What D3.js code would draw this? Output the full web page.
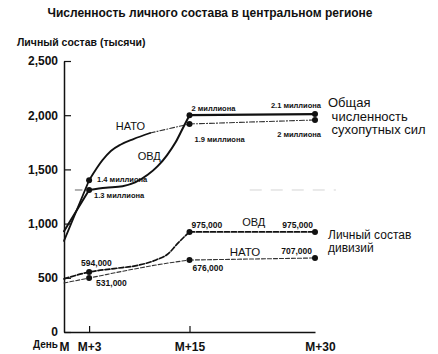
<!DOCTYPE html>
<html>
<head>
<meta charset="utf-8">
<script src="https://cdn.jsdelivr.net/npm/d3@7"></script>
<style>
  body { margin: 0; background: #fff; }
  text { font-family: "Liberation Sans", Arial, sans-serif; fill: #111; }
</style>
</head>
<body>
<div id="Canvas"></div>
<script>
// данные (тысячи человек), ось X - дни от M
let natoTotalDays = [0, 3, 4.6, 5.6, 6.8, 8.3, 10.3, 12.1, 15, 30]
let natoTotalVals = [840, 1400, 1585, 1670, 1730, 1780, 1836, 1868, 1919, 1956]
let ovdTotalDays = [0, 3, 5, 7, 8.5, 10, 11.2, 12.3, 13.3, 14.2, 15, 30]
let ovdTotalVals = [930, 1310, 1330, 1345, 1380, 1450, 1530, 1630, 1745, 1880, 2000, 2010]
let ovdDivDays = [0, 3, 6, 9, 11, 12.5, 13.5, 14.4, 15, 30]
let ovdDivVals = [490, 553, 585, 618, 665, 725, 810, 880, 923, 923]
let natoDivDays = [0, 3, 9, 11, 15, 30]
let natoDivVals = [452, 498, 590, 618, 664, 683]

let markDays = [3, 15, 30]
let natoTotalLabels = ["1.4 миллиона", "1.9 миллиона", "2 миллиона"]
let ovdTotalLabels = ["1.3 миллиона", "2 миллиона", "2.1 миллиона"]
let ovdDivLabels = ["594,000", "975,000", "975,000"]
let natoDivLabels = ["531,000", "676,000", "707,000"]

let yTicks = [0, 500, 1000, 1500, 2000, 2500]
let xTicks = [0, 3, 15, 30]
let xTickLabels = ["M", "M+3", "M+15", "M+30"]

let svg = d3.select("#Canvas")
    .append("svg")
    .attr("width", 438)
    .attr("height", 354)

let xScale = d3.scaleLinear().domain([0, 30]).range([64, 315])
let yScale = d3.scaleLinear().domain([0, 2500]).range([332, 61])

// заголовки
svg.append("text")
    .attr("x", 210).attr("y", 17)
    .attr("text-anchor", "middle")
    .style("font-size", "12px").style("font-weight", "bold")
    .text("Численность личного состава в центральном регионе")
svg.append("text")
    .attr("x", 17).attr("y", 46)
    .style("font-size", "10.5px").style("font-weight", "bold")
    .text("Личный состав (тысячи)")

// оси
let yAxis = svg.append("g")
    .attr("transform", "translate(64,0)")
    .call(d3.axisLeft(yScale).tickValues(yTicks).tickFormat(d3.format(","))
        .tickSizeInner(-7).tickSizeOuter(0).tickPadding(6))
yAxis.select(".domain").attr("stroke", "#111").attr("stroke-width", 1.5)
yAxis.selectAll(".tick line").attr("stroke", "#111").attr("stroke-width", 1.2)
yAxis.selectAll(".tick text")
    .style("font-size", "12px").style("font-weight", "bold")
    .style("font-family", "'Liberation Sans', Arial, sans-serif").attr("fill", "#111")

let xAxis = svg.append("g")
    .attr("transform", "translate(0,332)")
    .call(d3.axisBottom(xScale).tickValues(xTicks).tickFormat((d, i) => xTickLabels[i])
        .tickSizeInner(-6).tickSizeOuter(0).tickPadding(10))
xAxis.select(".domain").attr("stroke", "#111").attr("stroke-width", 1.5)
xAxis.selectAll(".tick line").attr("stroke", "#111").attr("stroke-width", 1.2)
    .filter(d => d == 0 || d == 30).remove()
xAxis.selectAll(".tick text")
    .style("font-size", "12px").style("font-weight", "bold")
    .style("font-family", "'Liberation Sans', Arial, sans-serif").attr("fill", "#111")
    .attr("dx", d => d == 30 ? 5 : 0)
svg.append("text")
    .attr("x", xScale(0) - 6).attr("y", 348)
    .attr("text-anchor", "end")
    .style("font-size", "10px").style("font-weight", "bold")
    .text("День")

// бледная линия на уровне 1.3 млн
svg.append("line")
    .attr("x1", xScale(1.3)).attr("x2", xScale(2.2))
    .attr("y1", yScale(1310)).attr("y2", yScale(1310))
    .attr("stroke", "#666").attr("stroke-width", 1)
svg.append("line")
    .attr("x1", xScale(22.2)).attr("x2", xScale(32.5))
    .attr("y1", yScale(1310)).attr("y2", yScale(1310))
    .attr("stroke", "#d4d4d4").attr("stroke-width", 1)
    .attr("stroke-dasharray", "12,9")

// рисуем кусок линии
function drawPiece(days, vals, from, to, curve, width, dash, color){
    let pts = days.map((d, i) => [d, vals[i]]).slice(from, to + 1)
    svg.append("path")
        .datum(pts)
        .attr("fill", "none")
        .attr("stroke", color)
        .attr("stroke-width", width)
        .attr("stroke-dasharray", dash)
        .attr("stroke-linecap", "round")
        .attr("d", d3.line().x(d => xScale(d[0])).y(d => yScale(d[1])).curve(curve))
}

// общая численность
drawPiece(natoTotalDays, natoTotalVals, 0, 1, d3.curveLinear, 1.8, null, "#111")
drawPiece(natoTotalDays, natoTotalVals, 1, 6, d3.curveMonotoneX, 1.8, null, "#111")
drawPiece(natoTotalDays, natoTotalVals, 6, 8, d3.curveMonotoneX, 1.1, "5,2,1,2", "#333")
drawPiece(natoTotalDays, natoTotalVals, 8, 9, d3.curveLinear, 1.1, "5,2,1,2", "#333")
drawPiece(ovdTotalDays, ovdTotalVals, 0, 1, d3.curveLinear, 2, null, "#111")
drawPiece(ovdTotalDays, ovdTotalVals, 1, 10, d3.curveMonotoneX, 2, null, "#111")
drawPiece(ovdTotalDays, ovdTotalVals, 10, 11, d3.curveLinear, 2.2, null, "#111")

// дивизии
drawPiece(ovdDivDays, ovdDivVals, 0, 8, d3.curveMonotoneX, 1.7, "5,2", "#111")
drawPiece(ovdDivDays, ovdDivVals, 8, 9, d3.curveLinear, 1.7, "5,2", "#111")
drawPiece(natoDivDays, natoDivVals, 0, 4, d3.curveMonotoneX, 1.1, "4,2", "#333")
drawPiece(natoDivDays, natoDivVals, 4, 5, d3.curveLinear, 1.1, "4,2", "#333")

// точки и подписи
let series = [
    {days: natoTotalDays, vals: natoTotalVals, labels: natoTotalLabels,
        pos: [[8, 2, "start"], [5, 18, "start"], [6, 17, "end"]], size: 7.5},
    {days: ovdTotalDays, vals: ovdTotalVals, labels: ovdTotalLabels,
        pos: [[5, 8, "start"], [2, -4, "start"], [6, -6, "end"]], size: 7.5},
    {days: ovdDivDays, vals: ovdDivVals, labels: ovdDivLabels,
        pos: [[-8, -6, "start"], [2, -4, "start"], [-2, -4, "end"]], size: 8.5},
    {days: natoDivDays, vals: natoDivVals, labels: natoDivLabels,
        pos: [[7, 8, "start"], [3, 11, "start"], [-3, -4, "end"]], size: 8.5}
]
series.forEach(s => {
    markDays.forEach((md, i) => {
        let v = s.vals[s.days.indexOf(md)]
        svg.append("circle")
            .attr("cx", xScale(md)).attr("cy", yScale(v))
            .attr("r", 3).attr("fill", "#111")
        svg.append("text")
            .attr("x", xScale(md) + s.pos[i][0])
            .attr("y", yScale(v) + s.pos[i][1])
            .attr("text-anchor", s.pos[i][2])
            .style("font-size", s.size + "px").style("font-weight", "bold")
            .text(s.labels[i])
    })
})

// названия линий
let names = [
    {text: "НАТО", day: 6.2, val: 1864, size: 11},
    {text: "ОВД", day: 8.8, val: 1584, size: 11},
    {text: "ОВД", day: 21.3, val: 975, size: 11},
    {text: "НАТО", day: 19.8, val: 702, size: 11.5}
]
svg.selectAll(".name")
    .data(names)
    .enter()
    .append("text")
    .attr("x", d => xScale(d.day))
    .attr("y", d => yScale(d.val))
    .style("font-size", d => d.size + "px")
    .text(d => d.text)

// подписи справа
let rightTotal = ["Общая", " численность", " сухопутных сил"]
let rightDiv = ["Личный состав", "дивизий"]
rightTotal.forEach((t, i) => {
    svg.append("text")
        .attr("x", 328).attr("y", 107 + i * 13.5)
        .attr("xml:space", "preserve")
        .style("font-size", "13px")
        .text(t)
})
rightDiv.forEach((t, i) => {
    svg.append("text")
        .attr("x", 328).attr("y", 239 + i * 13)
        .style("font-size", "12px")
        .text(t)
})
</script>
</body>
</html>
